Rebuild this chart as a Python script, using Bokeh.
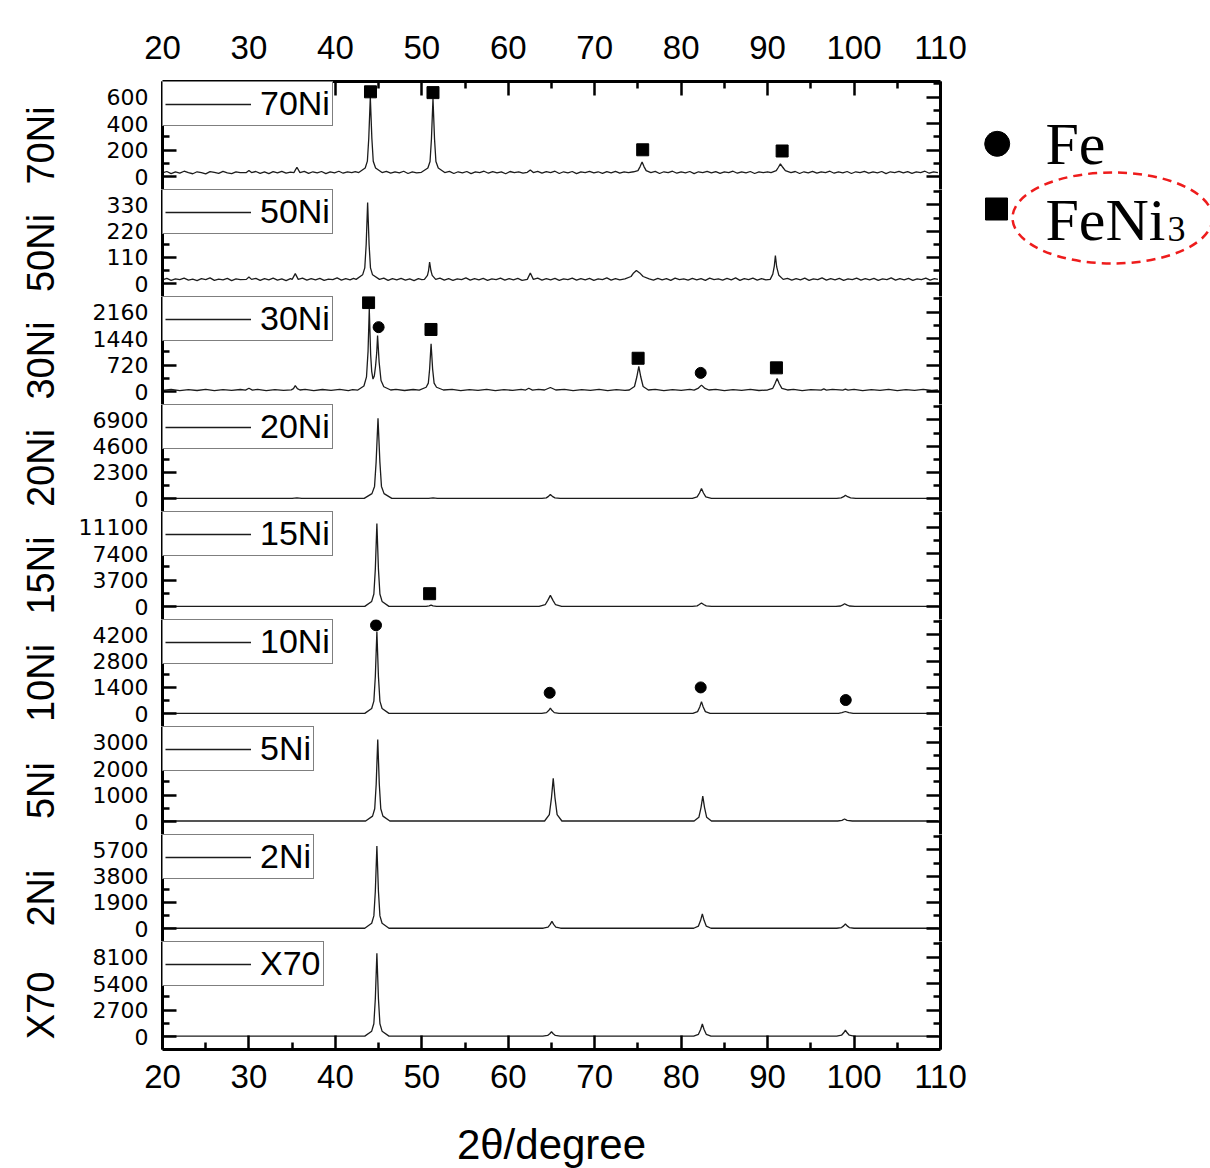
import math
from bokeh.plotting import figure
from bokeh.layouts import column, row
from bokeh.models import (Range1d, LinearAxis, FixedTicker, Legend, LegendItem,
                          ColumnDataSource)
from bokeh.core.properties import value
from bokeh.embed import file_html
from bokeh.resources import INLINE

# ---------------- data ----------------
samples = ["70Ni", "50Ni", "30Ni", "20Ni", "15Ni", "10Ni", "5Ni", "2Ni", "X70"]
y_steps = [200, 110, 720, 2300, 3700, 1400, 1000, 1900, 2700]
x_major = [20, 30, 40, 50, 60, 70, 80, 90, 100, 110]
x_minor = [25, 35, 45, 55, 65, 75, 85, 95, 105]

# (2theta, intensity)
xrd_70Ni = [(20.0,28),(20.5,38),(21.0,22),(21.5,35),(22.0,26),(22.5,40),(23.0,29),(23.5,21),(24.0,36),(24.5,30),
            (25.0,20),(25.5,37),(26.0,31),(26.5,24),(27.0,39),(27.5,28),(28.0,22),(28.5,35),(29.0,29),(29.7,30),
            (30.0,45),(30.3,30),(30.8,38),(31.3,24),(31.8,35),(32.3,22),(32.8,37),(33.3,27),(33.8,39),(34.3,25),
            (34.8,33),(35.2,30),(35.55,70),(35.9,30),(36.4,39),(36.9,24),(37.4,36),(37.9,27),(38.4,38),(38.9,22),
            (39.4,35),(39.9,28),(40.4,40),(40.9,25),(41.4,36),(41.9,29),(42.3,37),(42.7,30),(43.45,64),(43.7,116),
            (43.86,287),(44.04,600),(44.22,287),(44.38,116),(44.65,64),(45.4,30),(45.9,39),(46.4,25),(46.9,36),(47.4,28),
            (47.9,40),(48.4,23),(48.9,35),(49.4,27),(49.95,32),(50.7,64),(50.95,114),(51.11,282),(51.29,590),(51.47,282),
            (51.63,114),(51.9,64),(52.65,30),(53.2,39),(53.7,23),(54.2,36),(54.7,28),(55.2,38),(55.7,22),(56.2,35),
            (56.7,30),(57.2,40),(57.7,25),(58.2,37),(58.7,27),(59.2,35),(59.7,21),(60.2,38),(60.7,29),(61.2,36),
            (61.7,25),(62.2,32),(62.55,50),(62.9,30),(63.4,39),(63.9,25),(64.4,37),(64.9,29),(65.4,40),(65.9,23),
            (66.4,36),(66.9,28),(67.4,38),(67.9,22),(68.4,35),(68.9,30),(69.4,39),(69.9,27),(70.4,36),(70.9,24),
            (71.4,37),(71.9,28),(72.4,39),(72.9,25),(73.4,35),(73.9,30),(74.5,36),(75.0,45),(75.25,75),(75.48,110),
            (75.7,75),(75.95,45),(76.5,30),(77.0,39),(77.5,23),(78.0,36),(78.5,29),(79.0,40),(79.5,25),(80.0,35),
            (80.5,28),(81.0,38),(81.5,22),(82.0,36),(82.5,30),(83.0,39),(83.5,27),(84.0,37),(84.5,24),(85.0,35),
            (85.5,29),(86.0,40),(86.5,25),(87.0,36),(87.5,28),(88.0,38),(88.5,23),(89.0,35),(89.5,30),(90.0,36),
            (90.4,30),(91.0,45),(91.25,70),(91.48,95),(91.75,70),(92.05,45),(92.7,30),(93.2,38),(93.7,23),(94.2,36),
            (94.7,28),(95.2,39),(95.7,25),(96.2,36),(96.7,29),(97.2,40),(97.7,25),(98.2,35),(98.7,27),(99.2,38),
            (99.7,23),(100.2,36),(100.7,29),(101.2,39),(101.7,25),(102.2,35),(102.7,28),(103.2,38),(103.7,22),(104.2,36),
            (104.7,30),(105.2,39),(105.7,27),(106.2,37),(106.7,24),(107.2,35),(107.7,30),(108.2,40),(108.7,25),(109.2,36),
            (109.7,29)]

xrd_50Ni = [(20.0,16),(20.5,22),(21.0,14),(21.5,20),(22.0,17),(22.5,23),(23.0,15),(23.5,19),(24.0,13),(24.5,21),
            (25.0,17),(25.5,24),(26.0,14),(26.5,19),(27.0,16),(27.5,22),(28.0,13),(28.5,20),(29.0,17),(29.7,18),
            (30.0,28),(30.3,18),(30.8,22),(31.3,14),(31.8,21),(32.3,16),(32.8,23),(33.3,15),(33.8,20),(34.3,13),
            (34.8,21),(35.0,18),(35.36,42),(35.7,18),(36.2,23),(36.7,15),(37.2,21),(37.7,16),(38.2,22),(38.7,14),
            (39.2,19),(39.7,17),(40.2,24),(40.7,15),(41.2,21),(41.7,16),(42.1,22),(42.4,18),(43.15,37),(43.4,66),
            (43.56,163),(43.73,340),(43.9,163),(44.06,66),(44.3,37),(45.1,18),(45.6,23),(46.1,14),(46.6,21),(47.1,16),
            (47.6,22),(48.1,15),(48.6,20),(49.1,13),(49.6,21),(50.0,17),(50.3,18),(50.65,35),(50.78,55),(50.9,90),
            (51.05,55),(51.2,35),(51.6,18),(52.1,23),(52.6,15),(53.1,21),(53.6,14),(54.1,20),(54.6,17),(55.1,24),
            (55.6,15),(56.1,21),(56.6,16),(57.1,22),(57.6,14),(58.1,20),(58.6,17),(59.1,23),(59.6,15),(60.1,21),
            (60.6,16),(61.1,22),(61.6,14),(62.2,18),(62.55,45),(62.9,18),(63.4,23),(63.9,15),(64.4,21),(64.9,16),
            (65.4,22),(65.9,14),(66.4,20),(66.9,17),(67.4,23),(67.9,15),(68.4,21),(68.9,16),(69.4,22),(69.9,14),
            (70.4,20),(70.9,17),(71.4,24),(71.9,15),(72.4,21),(72.9,16),(73.5,20),(74.2,30),(74.5,45),(74.82,55),
            (75.2,45),(75.6,30),(76.3,20),(76.8,15),(77.3,22),(77.8,16),(78.3,21),(78.8,14),(79.3,23),(79.8,17),
            (80.3,20),(80.8,15),(81.3,22),(81.8,16),(82.3,21),(82.8,14),(83.3,23),(83.8,17),(84.3,20),(84.8,15),
            (85.3,22),(85.8,16),(86.3,24),(86.8,14),(87.3,21),(87.8,17),(88.3,23),(88.8,15),(89.3,21),(89.8,16),
            (90.3,18),(90.6,40),(90.78,75),(90.9,118),(91.05,70),(91.3,35),(91.8,18),(92.3,22),(92.8,15),(93.3,21),
            (93.8,16),(94.3,23),(94.8,14),(95.3,20),(95.8,17),(96.3,24),(96.8,15),(97.3,21),(97.8,16),(98.3,22),
            (98.8,14),(99.3,20),(99.8,17),(100.3,23),(100.8,15),(101.3,21),(101.8,16),(102.3,22),(102.8,14),(103.3,20),
            (103.8,17),(104.3,24),(104.8,15),(105.3,21),(105.8,16),(106.3,22),(106.8,14),(107.3,20),(107.8,17),(108.3,23),
            (108.8,15),(109.3,21),(109.7,18)]

xrd_30Ni = [(20.0,30),(21.0,58),(22.0,26),(23.0,52),(24.0,28),(25.0,60),(26.0,24),(27.0,50),(28.0,32),(29.0,55),
            (29.6,40),(30.0,90),(30.4,40),(31.0,58),(32.0,25),(33.0,54),(34.0,30),(34.9,45),(35.15,80),(35.36,160),
            (35.6,80),(35.9,42),(36.5,60),(37.5,26),(38.5,55),(39.5,30),(40.5,58),(41.5,27),(42.0,52),(42.6,40),
            (43.3,150),(43.6,400),(43.78,1100),(43.92,2250),(44.08,1000),(44.2,550),(44.35,340),(44.5,420),(44.65,700),(44.78,1050),
            (44.88,1520),(45.06,800),(45.28,300),(45.6,130),(46.4,42),(47.0,60),(48.0,28),(49.0,55),(49.7,40),(50.5,116),
            (50.75,229),(50.9,607),(51.07,1300),(51.25,607),(51.42,229),(51.7,116),(52.5,42),(53.5,58),(54.5,26),(55.5,54),
            (56.5,29),(57.5,60),(58.5,25),(59.5,53),(60.5,30),(61.5,57),(62.0,40),(62.37,90),(62.8,40),(63.5,56),
            (64.2,42),(64.87,110),(65.5,42),(66.5,58),(67.5,27),(68.5,54),(69.5,30),(70.5,59),(71.5,25),(72.5,53),
            (73.5,31),(74.0,42),(74.6,137),(74.87,395),(75.1,685),(75.33,395),(75.6,137),(76.2,42),(77.0,58),(78.0,27),
            (79.0,54),(80.0,30),(81.0,56),(81.5,40),(82.0,95),(82.35,175),(82.7,95),(83.2,42),(84.0,58),(85.0,26),
            (86.0,54),(87.0,30),(88.0,57),(89.0,28),(90.0,42),(90.6,87),(90.85,213),(91.1,355),(91.35,213),(91.65,87),
            (92.3,42),(93.0,57),(94.0,27),(95.0,54),(96.2,40),(96.5,70),(96.8,40),(97.5,56),(98.7,40),(99.0,65),
            (99.3,40),(100.0,58),(101.0,26),(102.0,54),(103.0,30),(104.0,59),(105.0,27),(106.0,53),(107.0,31),(108.0,57),
            (109.0,28),(109.7,42)]

xrd_20Ni = [(20.0,20),(35.0,20),(35.55,60),(36.1,20),(43.33,20),(44.23,441),(44.53,1073),(44.71,3179),(44.93,7040),
            (45.15,3179),(45.33,1073),(45.63,441),(46.53,20),(50.8,20),(51.3,60),(51.8,20),(63.9,20),(64.4,70),
            (64.65,200),(64.87,370),(65.1,200),(65.4,70),(66.0,20),(81.3,20),(81.85,150),(82.12,498),(82.35,890),
            (82.58,498),(82.85,150),(83.5,20),(98.0,20),(98.5,70),(98.8,170),(99.0,300),(99.25,170),(99.6,70),
            (100.2,20),(109.7,20)]

xrd_15Ni = [(20.0,20),(43.4,20),(44.2,715),(44.45,1757),(44.62,5231),(44.8,11600),(44.98,5231),(45.15,1757),
            (45.4,715),(46.2,20),(50.5,20),(50.85,90),(51.07,200),(51.3,90),(51.7,20),(63.57,20),(64.27,251),
            (64.57,867),(64.87,1560),(65.17,867),(65.47,251),(66.17,20),(81.3,20),(81.85,90),(82.1,278),(82.35,490),
            (82.6,278),(82.9,90),(83.5,20),(97.9,20),(98.45,75),(98.7,224),(98.9,390),(99.15,224),(99.45,75),
            (100.1,20),(109.7,20)]

xrd_10Ni = [(20.0,15),(43.4,15),(44.2,277),(44.45,670),(44.62,1979),(44.8,4380),(44.98,1979),(45.15,670),
            (45.4,277),(46.2,15),(63.87,15),(64.42,56),(64.67,166),(64.87,290),(65.07,166),(65.32,56),(65.87,15),
            (81.35,15),(81.9,109),(82.15,359),(82.35,640),(82.55,359),(82.8,109),(83.35,15),(98.2,15),(98.6,50),
            (99.0,115),(99.4,50),(99.9,15),(109.7,15)]

xrd_5Ni = [(20.0,20),(43.5,20),(44.3,205),(44.55,482),(44.72,1406),(44.9,3100),(45.08,1406),(45.25,482),
           (45.5,205),(46.3,20),(64.2,20),(64.75,262),(65.0,906),(65.2,1630),(65.4,906),(65.65,262),(66.2,20),
           (81.5,20),(82.05,161),(82.3,537),(82.5,960),(82.7,537),(82.95,161),(83.5,20),(98.1,20),(98.6,45),
           (98.9,95),(99.2,45),(99.8,20),(109.7,20)]

xrd_2Ni = [(20.0,30),(43.4,30),(44.2,388),(44.45,924),(44.62,2712),(44.8,5990),(44.98,2712),(45.15,924),
           (45.4,388),(46.2,30),(64.05,30),(64.6,105),(64.85,305),(65.05,530),(65.25,305),(65.5,105),(66.05,30),
           (81.45,30),(82.0,186),(82.25,602),(82.45,1070),(82.65,602),(82.9,186),(83.45,30),(98.0,30),(98.55,77),
           (98.8,201),(99.0,340),(99.2,201),(99.45,77),(100.0,30),(109.7,30)]

xrd_X70 = [(20.0,40),(43.4,40),(44.2,548),(44.45,1309),(44.62,3847),(44.8,8500),(44.98,3847),(45.15,1309),
           (45.4,548),(46.2,40),(64.0,40),(64.55,108),(64.8,288),(65.0,490),(65.2,288),(65.45,108),(66.0,40),
           (81.45,40),(82.0,226),(82.25,722),(82.45,1280),(82.65,722),(82.9,226),(83.45,40),(98.0,40),(98.55,133),
           (98.8,381),(99.0,660),(99.2,381),(99.45,133),(100.0,40),(109.7,40)]

patterns = [xrd_70Ni, xrd_50Ni, xrd_30Ni, xrd_20Ni, xrd_15Ni, xrd_10Ni, xrd_5Ni, xrd_2Ni, xrd_X70]

# phase markers (2theta, intensity) per sample
fe_marks = {"30Ni": [(45.0, 1751), (82.26, 507)],
            "10Ni": [(44.7, 4720), (64.79, 1114), (82.26, 1400), (99.04, 727)]}
feni3_marks = {"70Ni": [(44.06, 640), (51.29, 634), (75.55, 202), (91.68, 193)],
               "30Ni": [(43.84, 2420), (51.06, 1688), (75.02, 905), (91.02, 644)],
               "15Ni": [(50.9, 1794)]}

# ---------------- layout constants ----------------
PAGE_W, PAGE_H = 1210, 1168
FRAME_W = 778
heights = [108, 107, 108, 107, 108, 107, 108, 107, 108]
TOP = 81
BOTTOM = PAGE_H - TOP - sum(heights)
LABEL_W = 64            # strip holding the rotated sample names
LEFT = 162 - LABEL_W    # left border of each panel
RIGHT = 30
FONT = "Liberation Sans"
INK = "black"

xr = Range1d(20, 110)


def style_axis(ax, font, font_size):
    ax.axis_line_width = 3
    ax.axis_line_color = INK
    ax.major_tick_in = 14
    ax.major_tick_out = 0
    ax.minor_tick_in = 7
    ax.minor_tick_out = 0
    ax.major_tick_line_width = 2.5
    ax.minor_tick_line_width = 2.5
    ax.major_tick_line_color = INK
    ax.minor_tick_line_color = INK
    ax.major_label_text_font = font
    ax.major_label_text_font_size = f"{font_size}px"
    ax.major_label_text_color = INK


def blank(fig):
    fig.outline_line_color = None
    fig.xgrid.visible = False
    fig.ygrid.visible = False
    fig.background_fill_color = "white"
    fig.border_fill_color = "white"


panels = []
for i, name in enumerate(samples):
    s = y_steps[i]
    h = heights[i]
    p = figure(frame_width=FRAME_W, frame_height=h, x_range=xr,
               y_range=Range1d(-0.49 * s, 3.59 * s),
               output_backend="svg", toolbar_location=None,
               x_axis_location=None, y_axis_location=None,
               min_border=0, min_border_left=LEFT, min_border_right=RIGHT,
               min_border_top=TOP if i == 0 else 0,
               min_border_bottom=BOTTOM if i == len(samples) - 1 else 0)
    blank(p)

    ticks = [0, s, 2 * s, 3 * s]
    minor = [-0.5 * s, 0.5 * s, 1.5 * s, 2.5 * s, 3.5 * s]

    yl = LinearAxis(ticker=FixedTicker(ticks=ticks, minor_ticks=minor),
                    major_label_overrides={t: str(t) for t in ticks})
    style_axis(yl, "DejaVu Sans", 22)
    yl.major_label_standoff = 14
    p.add_layout(yl, "left")

    yr = LinearAxis(ticker=FixedTicker(ticks=ticks, minor_ticks=minor),
                    major_label_overrides={t: "" for t in ticks})
    style_axis(yr, FONT, 1)
    yr.major_label_standoff = 0
    p.add_layout(yr, "right")

    if i == 0:
        xa = LinearAxis(ticker=FixedTicker(ticks=x_major, minor_ticks=x_minor))
        style_axis(xa, FONT, 33)
        xa.major_label_standoff = 23
        p.add_layout(xa, "above")
    if i == len(samples) - 1:
        xb = LinearAxis(ticker=FixedTicker(ticks=x_major, minor_ticks=x_minor),
                        axis_label="2\u03b8/degree")
        style_axis(xb, FONT, 33)
        xb.major_label_standoff = 15
        xb.axis_label_text_font = FONT
        xb.axis_label_text_font_size = "42px"
        xb.axis_label_text_font_style = "normal"
        xb.axis_label_text_color = INK
        xb.axis_label_standoff = 30
        p.add_layout(xb, "below")

    tt, inten = zip(*patterns[i])
    src = ColumnDataSource(dict(tt=list(tt), I=list(inten)))
    r = p.line("tt", "I", source=src, line_color="#1c1c1c", line_width=1.3)

    if name in feni3_marks:
        mx, my = zip(*feni3_marks[name])
        p.scatter(list(mx), list(my), marker="square", size=12, color=INK)
    if name in fe_marks:
        mx, my = zip(*fe_marks[name])
        p.scatter(list(mx), list(my), marker="circle", size=11, color=INK)

    leg = Legend(items=[LegendItem(label=value(name), renderers=[r])],
                 location="top_left", margin=0, padding=2, spacing=0,
                 border_line_color=INK, border_line_width=1.5,
                 background_fill_color="white", background_fill_alpha=1.0,
                 label_text_font=FONT, label_text_font_size="34px",
                 label_text_color=INK,
                 glyph_width=86, glyph_height=20, label_standoff=9)
    p.add_layout(leg)
    panels.append(p)

# ---- strip with the rotated sample names (pixel coordinates, y upwards) ----
names_fig = figure(width=LABEL_W, height=PAGE_H, x_range=Range1d(0, LABEL_W),
                   y_range=Range1d(0, PAGE_H), output_backend="svg",
                   toolbar_location=None, x_axis_location=None,
                   y_axis_location=None, min_border=0)
blank(names_fig)
centers = []
top = TOP
for h in heights:
    centers.append(PAGE_H - (top + h / 2 + 10))
    top += h
names_fig.text(x=[40] * len(samples), y=centers, text=samples, angle=math.pi / 2,
               text_align="center", text_baseline="middle",
               text_font=value(FONT), text_font_size=value("38px"), text_color=INK)

# ---- phase legend on the right (pixel coordinates, y downwards) ----
panel_width = LEFT + FRAME_W + RIGHT
LEG_W = PAGE_W - LABEL_W - panel_width
x0 = LABEL_W + panel_width
lg = figure(width=LEG_W, height=PAGE_H, x_range=Range1d(x0, PAGE_W), y_range=Range1d(PAGE_H, 0),
            output_backend="svg", toolbar_location=None,
            x_axis_location=None, y_axis_location=None, min_border=0)
blank(lg)
lg.scatter([996.7], [143.3], marker="circle", size=25, color=INK)
lg.scatter([996.0], [208.5], marker="square", size=22, color=INK)
serif = value("Liberation Serif")
lg.text([1045], [165 - 0.36 * 60], text=["Fe"], text_font=serif,
        text_font_size=value("60px"), text_color=INK, text_baseline="middle")
lg.text([1045], [241.5 - 0.36 * 60], text=["FeNi"], text_font=serif,
        text_font_size=value("60px"), text_color=INK, text_baseline="middle")
lg.text([1167], [241.5 - 0.36 * 36], text=["3"], text_font=serif,
        text_font_size=value("36px"), text_color=INK, text_baseline="middle")
lg.ellipse(x=[1112], y=[217.5], width=[200], height=[91], fill_color=None,
           line_color="#ee1c1c", line_width=2.5, line_dash="9 6")

layout = row(names_fig, column(*panels), lg)
open("out.html", "w").write(file_html(layout, INLINE, "XRD"))
